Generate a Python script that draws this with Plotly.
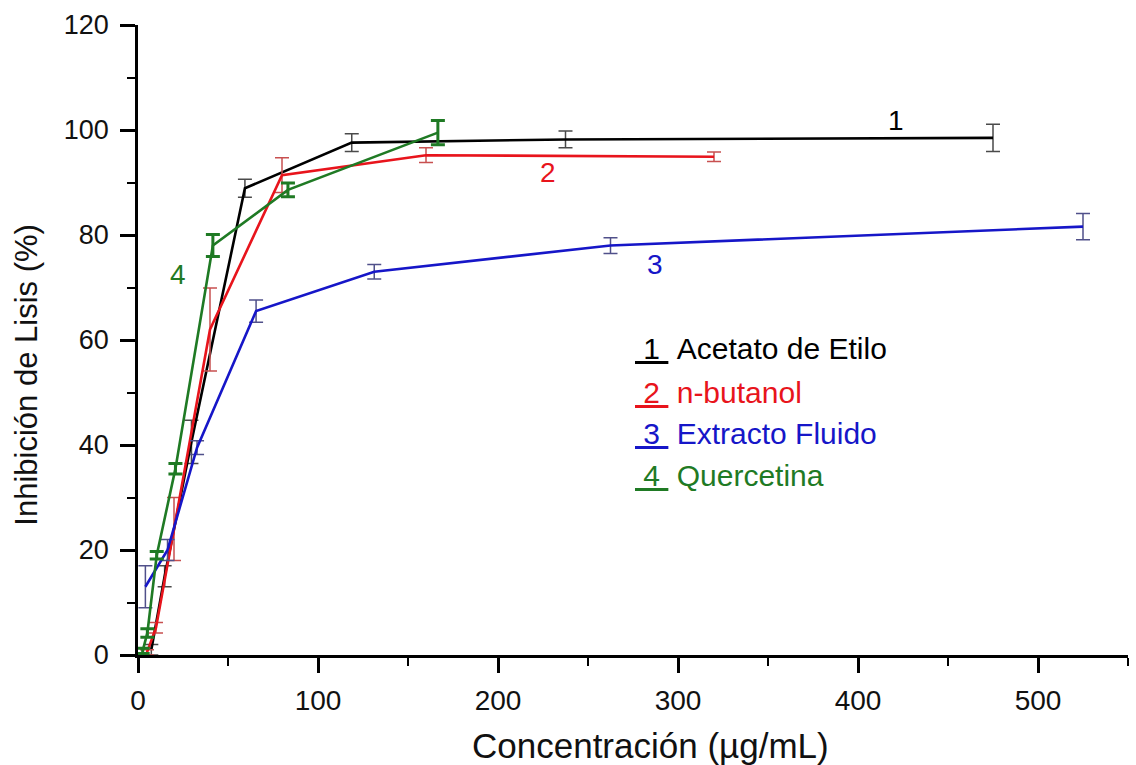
import plotly.graph_objects as go

# ---- data ----
acetato_x = [7.4, 14.8, 29.7, 59.4, 118.75, 237.5, 475]
acetato_y = [1.0, 15.0, 40.6, 88.9, 97.6, 98.2, 98.5]
acetato_e = [1.0, 2.0, 4.1, 1.7, 1.7, 1.6, 2.6]

butanol_x = [5, 10, 20, 40, 80, 160, 320]
butanol_y = [0.5, 5.2, 24.0, 62.0, 91.4, 95.2, 94.9]
butanol_e = [0.5, 1.0, 6.0, 7.9, 3.3, 1.4, 0.9]

fluido_x = [4.1, 16.4, 32.8, 65.6, 131.25, 262.5, 525]
fluido_y = [13.0, 20.0, 39.5, 65.5, 73.0, 78.0, 81.6]
fluido_e = [4.0, 2.0, 1.3, 2.1, 1.4, 1.5, 2.5]

querc_x = [2.6, 5.2, 10.4, 20.8, 41.6, 83.3, 166.6]
querc_y = [0.8, 4.2, 19.0, 35.5, 78.0, 88.6, 99.5]
querc_e = [0.5, 0.8, 0.7, 1.0, 2.1, 1.3, 2.3]

x_ticks = [0, 100, 200, 300, 400, 500]
y_ticks = [0, 20, 40, 60, 80, 100, 120]

series_names = ["Acetato de Etilo", "n-butanol", "Extracto Fluido", "Quercetina"]
line_colors = ["#000000", "#e8141c", "#1616c8", "#1f7a24"]
err_colors = ["#4a4a4a", "#c85050", "#50508a", "#1f7a24"]
err_thick = [1.5, 1.5, 1.5, 3]

# curve number labels (data coordinates)
lab_x = [421, 228, 287, 22]
lab_y = [101.8, 92.0, 74.3, 72.4]

FONT = "Liberation Sans, Arial, sans-serif"

fig = go.Figure()
data = [
    (acetato_x, acetato_y, acetato_e),
    (butanol_x, butanol_y, butanol_e),
    (fluido_x, fluido_y, fluido_e),
    (querc_x, querc_y, querc_e),
]
for i, (xs, ys, es) in enumerate(data):
    fig.add_trace(go.Scatter(
        x=xs, y=ys, mode="lines", name=series_names[i],
        line=dict(color=line_colors[i], width=2.6),
        error_y=dict(type="data", array=es, visible=True,
                     color=err_colors[i], thickness=err_thick[i], width=7),
        showlegend=False,
    ))

annotations = []
for i in range(4):
    annotations.append(dict(
        x=lab_x[i], y=lab_y[i], xref="x", yref="y", text=str(i + 1),
        showarrow=False, font=dict(family=FONT, size=28, color=line_colors[i]),
        xanchor="center", yanchor="middle"))

# legend-like text block
leg_y = [58.3, 50.0, 42.1, 34.1]
for i in range(4):
    annotations.append(dict(
        x=275, y=leg_y[i], xref="x", yref="y",
        text="<u>\u00a0" + str(i + 1) + "\u00a0</u>\u00a0" + series_names[i],
        showarrow=False, font=dict(family=FONT, size=30, color=line_colors[i]),
        xanchor="left", yanchor="middle"))

# axis titles
annotations.append(dict(
    x=0.518, y=0, xref="paper", yref="paper", yshift=-90,
    text="Concentración (µg/mL)", showarrow=False,
    font=dict(family=FONT, size=35, color="#111111"),
    xanchor="center", yanchor="middle"))
annotations.append(dict(
    x=0, y=0.445, xref="paper", yref="paper", xshift=-111,
    text="Inhibición de Lisis (%)", showarrow=False, textangle=-90,
    font=dict(family=FONT, size=31, color="#111111"),
    xanchor="center", yanchor="middle"))

axis_common = dict(
    showline=True, linecolor="black", linewidth=2.5,
    ticks="outside", ticklen=15, tickwidth=2.5, tickcolor="black",
    showgrid=False, zeroline=False,
)

fig.update_layout(
    width=1136, height=765,
    margin=dict(l=138, r=8, t=25, b=110),
    paper_bgcolor="white", plot_bgcolor="white",
    font=dict(family=FONT, color="#111111"),
    xaxis=dict(range=[0, 550], tickmode="array", tickvals=x_ticks,
               ticktext=[str(v) for v in x_ticks],
               tickfont=dict(size=28, family=FONT),
               minor=dict(dtick=50, tick0=0, ticks="outside", ticklen=8,
                          tickwidth=2, tickcolor="black"),
               ticklabelstandoff=4,
               **axis_common),
    yaxis=dict(range=[0, 120], tickmode="array", tickvals=y_ticks,
               ticktext=[str(v) for v in y_ticks],
               tickfont=dict(size=27, family=FONT),
               minor=dict(dtick=10, tick0=0, ticks="outside", ticklen=8,
                          tickwidth=2, tickcolor="black"),
               ticklabelstandoff=6,
               **axis_common),
    annotations=annotations,
)

fig.write_html("out.html")
